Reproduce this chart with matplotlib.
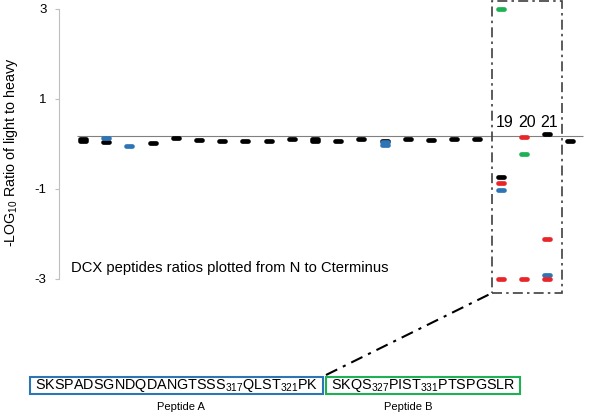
import matplotlib.pyplot as plt
from matplotlib.markers import MarkerStyle
from matplotlib.patches import Rectangle
from matplotlib.lines import Line2D

plt.rcParams['font.family'] = ['Liberation Sans', 'DejaVu Sans']
plt.rcParams['mathtext.fontset'] = 'custom'
plt.rcParams['mathtext.rm'] = 'Liberation Sans'

# peptide position (1..22) and -log10 ratio per series colour
black_x = [1, 1, 2, 4, 5, 6, 7, 8, 9, 10, 11, 11, 12, 13, 14, 15, 16, 17, 18, 19, 21, 22]
black_y = [0.11, 0.07, 0.05, 0.03, 0.13, 0.08, 0.07, 0.07, 0.07, 0.10, 0.10, 0.07,
           0.07, 0.12, 0.07, 0.10, 0.09, 0.11, 0.10, -0.73, 0.21, 0.06]
blue_x = [2, 3, 14, 14, 19, 21]
blue_y = [0.13, -0.04, 0.05, -0.02, -1.03, -2.91]
red_x = [19, 19, 20, 20, 21, 21]
red_y = [-0.87, -3.0, 0.16, -3.0, -2.11, -3.0]
green_x = [19, 20]
green_y = [3.0, -0.22]

zoom_labels = ["19", "20", "21"]
peptide_a = r"SKSPADSGNDQDANGTSSS$_{317}$QLST$_{321}$PK"
peptide_b = r"SKQS$_{327}$PIST$_{331}$PTSPGSLR"

W, H = 600, 417
fig = plt.figure(figsize=(6, 4.17), dpi=100)
ax = fig.add_axes([59 / W, 1 - 295 / H, (590 - 59) / W, 295 / H])

ax.set_ylim(-3.36, 3.2)
ax.set_xlim(-0.03, 22.85)

ms = MarkerStyle('_', capstyle='round')
for xs, ys, c in [(black_x, black_y, '#000000'),
                  (blue_x, blue_y, '#2E75B6'),
                  (red_x, red_y, '#E8262A'),
                  (green_x, green_y, '#1DB154')]:
    ax.plot(xs, ys, linestyle='none', marker=ms, markersize=4.5,
            markeredgewidth=3.4, color=c, zorder=3)

# x axis line
ax.hlines(0.17, 0.74, 22.55, color='#808080', linewidth=0.8, zorder=1)

for s in ['top', 'right', 'bottom']:
    ax.spines[s].set_visible(False)
ax.spines['left'].set_bounds(-3, 3)
ax.spines['left'].set_color('#BFBFBF')
ax.set_yticks([3, 1, -1, -3])
ax.set_yticklabels(['3', '1', '-1', '-3'], fontsize=9.5)
ax.tick_params(axis='y', color='#BFBFBF', length=3, pad=6)
ax.set_xticks([])
ax.set_ylabel(r'-LOG$_{10}$ Ratio of light to heavy', fontsize=10.3)
ax.yaxis.set_label_coords(-0.073, 0.485)

ax.text(0.5, -2.76, 'DCX peptides ratios plotted from N to Cterminus',
        fontsize=10.6, va='center')

# dash-dot box around 19-21
ax.add_patch(Rectangle((18.63, -3.31), 3.02, 6.49, fill=False, edgecolor='#404040',
                       linestyle=(0, (6, 2.5, 1.5, 2.5)), linewidth=1.2,
                       clip_on=False, zorder=2))
for i, lab in enumerate(zoom_labels):
    ax.text(19.15 + i * 0.97, 0.3, lab, fontsize=11.5, ha='center', va='bottom')

# peptide boxes at the bottom
fig.patches.append(Rectangle((30 / W, 1 - 394 / H), 293 / W, 17 / H, fill=False,
                             edgecolor='#2E75B6', linewidth=1.5, transform=fig.transFigure))
fig.patches.append(Rectangle((326 / W, 1 - 394 / H), 194 / W, 17 / H, fill=False,
                             edgecolor='#1DB154', linewidth=1.5, transform=fig.transFigure))
fig.text(176.5 / W, 1 - 385.5 / H, peptide_a, fontsize=10.4, ha='center', va='center')
fig.text(423 / W, 1 - 385.5 / H, peptide_b, fontsize=10.4, ha='center', va='center')
fig.text(181 / W, 1 - 407 / H, 'Peptide A', fontsize=8, ha='center', va='center')
fig.text(408 / W, 1 - 407 / H, 'Peptide B', fontsize=8, ha='center', va='center')

fig.lines.append(Line2D([326 / W, 492 / W], [1 - 375 / H, 1 - 293 / H], color='black',
                        linestyle=(0, (6, 3, 1.5, 3)), linewidth=1.5,
                        transform=fig.transFigure))

fig.savefig('out.png', dpi=100)
